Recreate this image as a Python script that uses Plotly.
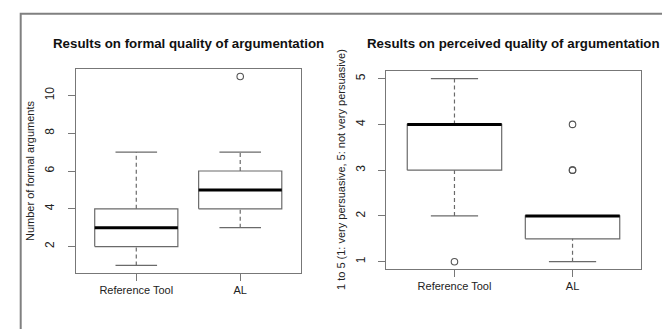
import plotly.graph_objects as go

# ---- data ----
groups = ["Reference Tool", "AL"]

# Left panel: number of formal arguments
formal_low = [1, 3]
formal_q1 = [2, 4]
formal_med = [3, 5]
formal_q3 = [4, 6]
formal_high = [7, 7]
formal_out = [[], [11]]

# Right panel: perceived quality (1 very persuasive .. 5 not very persuasive)
perc_low = [2, 1]
perc_q1 = [3, 1.5]
perc_med = [4, 2]
perc_q3 = [4, 2]
perc_high = [5, 2]
perc_out = [[1], [3, 3, 4]]

left_ticks = [2, 4, 6, 8, 10]
right_ticks = [1, 2, 3, 4, 5]

W, H = 670, 329
BOX_COL = "#6a6a6a"
FRAME_COL = "#777777"
FONT = "Liberation Sans, Arial, Helvetica, sans-serif"

fig = go.Figure()


def add_panel(fig, xa, ya, low, q1, med, q3, high, outs):
    half = 0.4
    cap = 0.2
    for i in range(len(groups)):
        c = i + 1
        # box
        fig.add_trace(go.Scatter(
            x=[c - half, c + half, c + half, c - half, c - half],
            y=[q1[i], q1[i], q3[i], q3[i], q1[i]],
            mode="lines", line=dict(color=BOX_COL, width=1.2),
            xaxis=xa, yaxis=ya, hoverinfo="skip", showlegend=False))
        # whiskers (dashed)
        if high[i] > q3[i]:
            fig.add_trace(go.Scatter(
                x=[c, c], y=[q3[i], high[i]], mode="lines",
                line=dict(color=BOX_COL, width=1.2, dash="4px,3px"),
                xaxis=xa, yaxis=ya, hoverinfo="skip", showlegend=False))
        if low[i] < q1[i]:
            fig.add_trace(go.Scatter(
                x=[c, c], y=[low[i], q1[i]], mode="lines",
                line=dict(color=BOX_COL, width=1.2, dash="4px,3px"),
                xaxis=xa, yaxis=ya, hoverinfo="skip", showlegend=False))
        # staples
        for v in (low[i], high[i]):
            fig.add_trace(go.Scatter(
                x=[c - cap, c + cap], y=[v, v], mode="lines",
                line=dict(color=BOX_COL, width=1.2),
                xaxis=xa, yaxis=ya, hoverinfo="skip", showlegend=False))
        # median
        fig.add_trace(go.Scatter(
            x=[c - half, c + half], y=[med[i], med[i]], mode="lines",
            line=dict(color="#000000", width=3),
            xaxis=xa, yaxis=ya, hoverinfo="skip", showlegend=False))
        # outliers
        if outs[i]:
            fig.add_trace(go.Scatter(
                x=[c] * len(outs[i]), y=outs[i], mode="markers",
                marker=dict(symbol="circle-open", size=6.5,
                            line=dict(color="#555555", width=1.1),
                            color="#555555"),
                xaxis=xa, yaxis=ya, hoverinfo="skip", showlegend=False))


add_panel(fig, "x", "y", formal_low, formal_q1, formal_med, formal_q3,
          formal_high, formal_out)
add_panel(fig, "x2", "y2", perc_low, perc_q1, perc_med, perc_q3,
          perc_high, perc_out)

axis_common = dict(showline=True, mirror=True, linecolor=FRAME_COL,
                   linewidth=1.2, ticks="outside", ticklen=7,
                   tickcolor=FRAME_COL, tickwidth=1.2, showgrid=False,
                   zeroline=False)
xfont = dict(size=11, color="#222222", family=FONT)
yfont = dict(size=12, color="#222222", family=FONT)

fig.update_layout(
    width=W, height=H,
    margin=dict(l=0, r=0, t=0, b=0),
    paper_bgcolor="white", plot_bgcolor="white",
    font=dict(family=FONT, color="#111111"),
    xaxis=dict(domain=[68 / W, 292.5 / W], range=[0.42, 2.58],
               tickvals=[1, 2], ticktext=groups, anchor="y",
               tickfont=xfont, **axis_common),
    yaxis=dict(domain=[1 - 265 / H, 1 - 61 / H], range=[0.6, 11.4],
               tickvals=left_ticks, tickangle=-90, anchor="x",
               ticklabelstandoff=9, tickfont=yfont, **axis_common),
    xaxis2=dict(domain=[378 / W, 633 / W], range=[0.42, 2.58],
                tickvals=[1, 2], ticktext=groups, anchor="y2",
                tickfont=xfont, **axis_common),
    yaxis2=dict(domain=[1 - 261 / H, 1 - 63.3 / H], range=[0.84, 5.16],
                tickvals=right_ticks, tickangle=-90, anchor="x2",
                ticklabelstandoff=8, tickfont=yfont, **axis_common),
)

ann = [
    dict(text="<b>Results on formal quality of argumentation</b>",
         x=180.4 / W, y=1 - 35 / H, font=dict(size=13.3, color="#111111")),
    dict(text="<b>Results on perceived quality of argumentation</b>",
         x=505.5 / W, y=1 - 35 / H, font=dict(size=13.3, color="#111111")),
    dict(text="Number of formal arguments", x=22 / W, y=1 - 163 / H,
         textangle=-90, font=dict(size=11, color="#222222")),
    dict(text="1 to 5 (1: very persuasive, 5: not very persuasive)",
         x=333 / W, y=1 - 162 / H, textangle=-90,
         font=dict(size=11, color="#222222")),
]
for a in ann:
    fig.add_annotation(xref="paper", yref="paper", xanchor="center",
                       yanchor="middle", showarrow=False, **a)

# outer frame of the screenshot
fig.add_shape(type="path", xref="paper", yref="paper",
              path=f"M {12.7 / W},0 L {12.7 / W},{1 - 5.7 / H} "
                   f"L {661 / W},{1 - 5.7 / H} L {661 / W},0",
              line=dict(color="#808080", width=2))

fig.write_html("out.html")
